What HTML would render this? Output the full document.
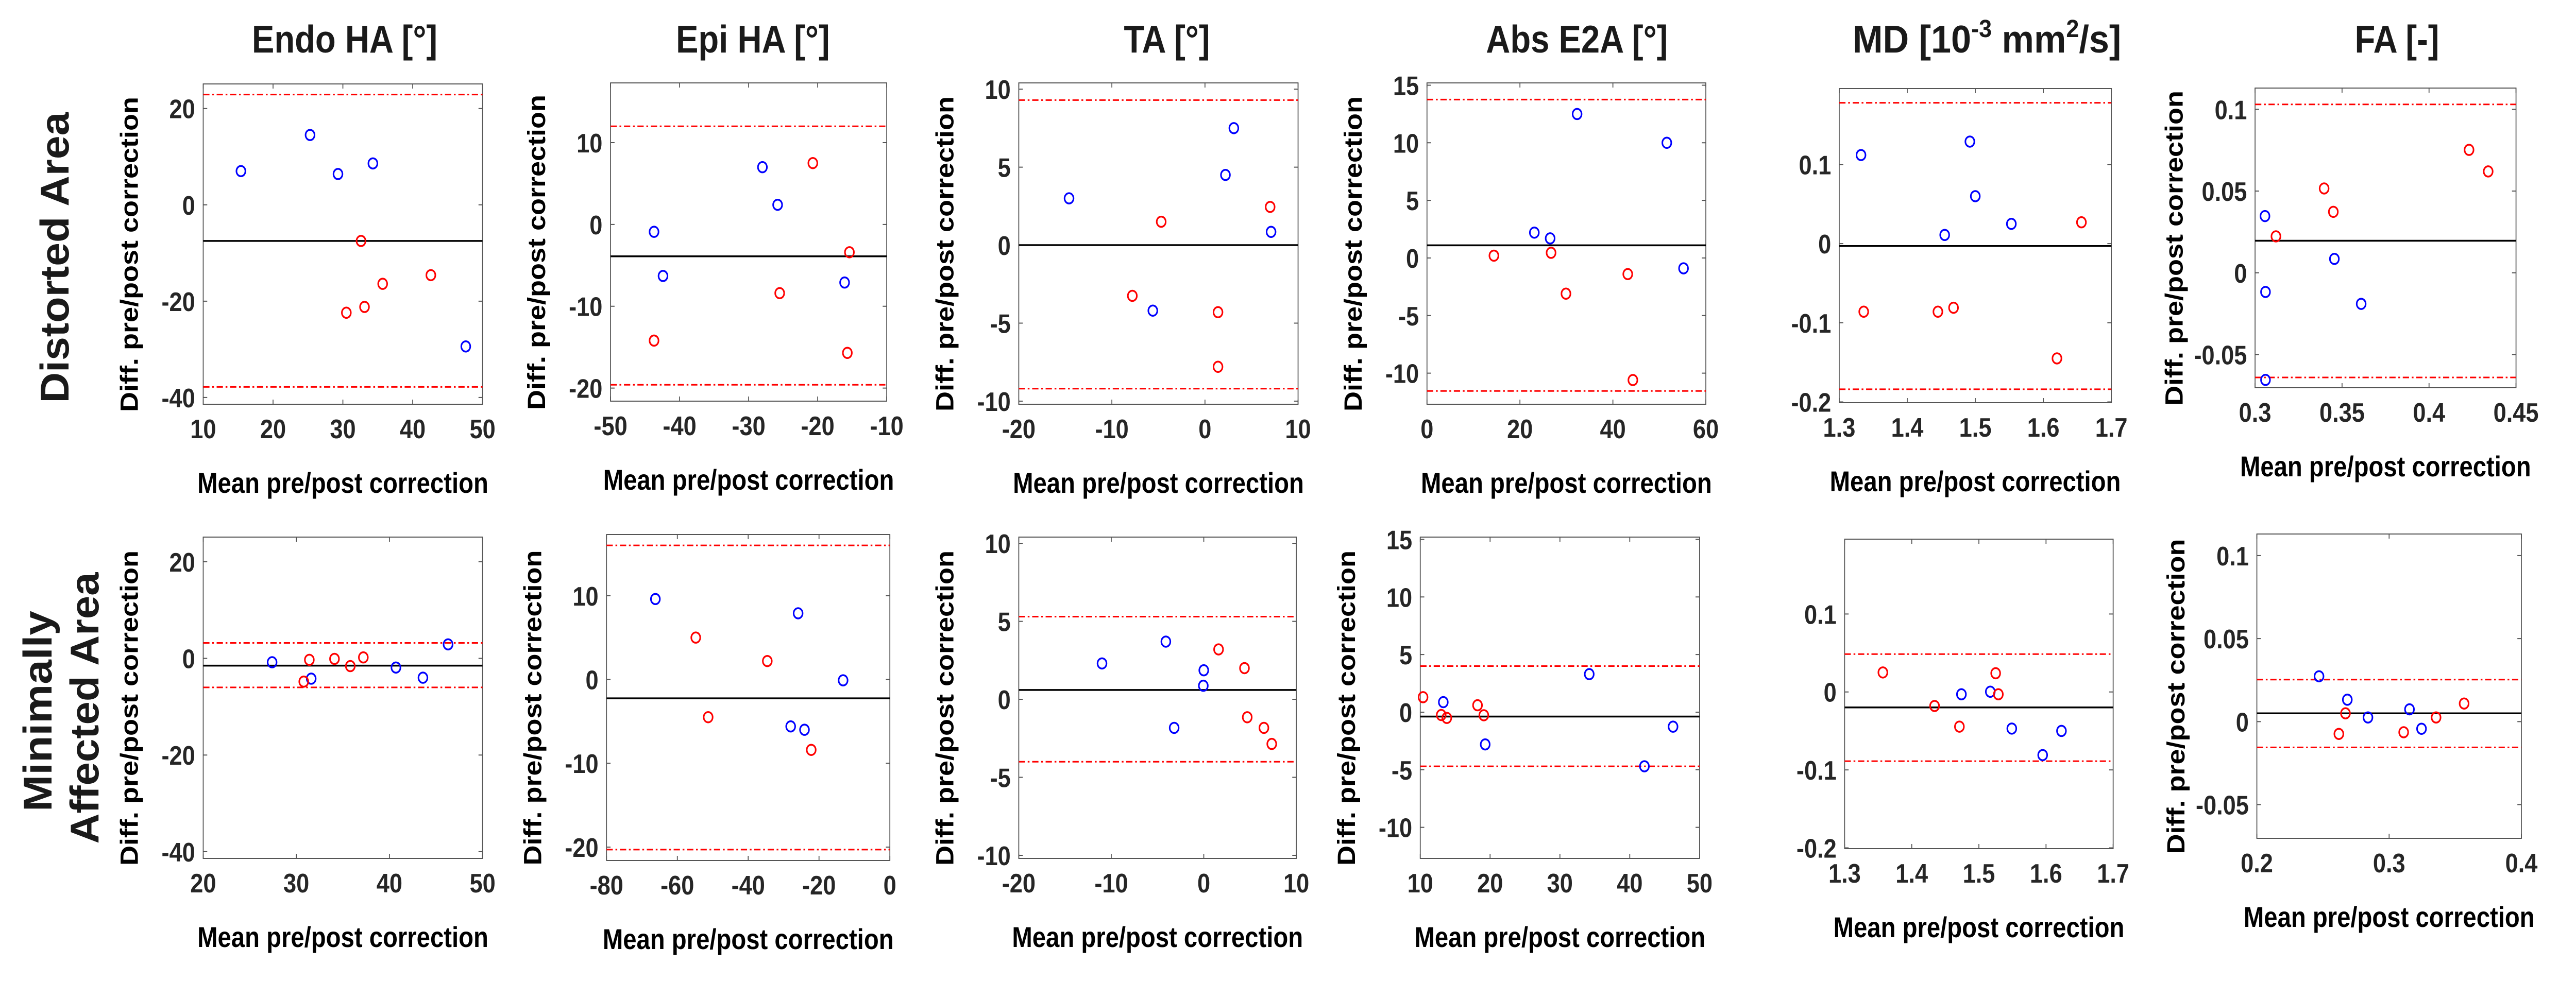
<!DOCTYPE html>
<html><head><meta charset="utf-8"><title>Bland-Altman plots</title>
<style>
html,body{margin:0;padding:0;background:#fff;width:100%;height:100%;overflow:hidden;}
svg{display:block;position:fixed;left:0;top:0;width:100vw;height:100vh;}
text{font-family:"Liberation Sans",Arial,sans-serif;font-weight:bold;}
</style></head>
<body>
<svg id="fig" viewBox="0 0 5755 1940" preserveAspectRatio="none" xmlns="http://www.w3.org/2000/svg">
<rect width="5755" height="1940" fill="#fff"/>
<g font-size="75" fill="#1a1a1a" text-anchor="middle">
<text x="770" y="102">Endo HA [°]</text>
<text x="1682" y="102">Epi HA [°]</text>
<text x="2607" y="102">TA [°]</text>
<text x="3523" y="102">Abs E2A [°]</text>
<text x="4439" y="102" textLength="600" lengthAdjust="spacingAndGlyphs">MD [10<tspan font-size="48" dy="-30">-3</tspan><tspan dy="30"> mm</tspan><tspan font-size="48" dy="-30">2</tspan><tspan dy="30">/s]</tspan></text>
<text x="5355" y="102">FA [-]</text>
</g>
<g font-size="90" fill="#1a1a1a" text-anchor="middle">
<text transform="translate(153,500) rotate(-90)" textLength="565" lengthAdjust="spacingAndGlyphs">Distorted Area</text>
<text transform="translate(115,1381) rotate(-90)" textLength="390" lengthAdjust="spacingAndGlyphs">Minimally</text>
<text transform="translate(220,1375) rotate(-90)" textLength="527" lengthAdjust="spacingAndGlyphs">Affected Area</text>
</g>
<g id="panels"></g>
</svg>
<script>
// ---- Data ----
const endoTopBlueX = [15.4, 25.3, 29.3, 34.3, 47.6];
const endoTopBlueY = [7.0, 14.5, 6.4, 8.6, -29.4];
const endoTopRedX = [32.6, 30.5, 33.1, 35.7, 42.6];
const endoTopRedY = [-7.5, -22.4, -21.2, -16.4, -14.6];
const endoTopLines = [-7.5, 22.9, -37.8];

const epiTopBlueX = [-43.7, -42.4, -28.0, -25.8, -16.1];
const epiTopBlueY = [-0.9, -6.3, 7.0, 2.4, -7.1];
const epiTopRedX = [-43.7, -25.5, -20.7, -15.4, -15.7];
const epiTopRedY = [-14.2, -8.4, 7.5, -3.4, -15.7];
const epiTopLines = [-3.9, 12.0, -19.6];

const taTopBlueX = [-14.6, 3.1, 2.2, 7.1, -5.6];
const taTopBlueY = [3.0, 7.5, 4.5, 0.85, -4.2];
const taTopRedX = [-4.7, 7.0, -7.8, 1.4, 1.4];
const taTopRedY = [1.5, 2.45, -3.25, -4.3, -7.8];
const taTopLines = [0.0, 9.3, -9.2];

const e2aTopBlueX = [32.3, 51.6, 23.1, 26.5, 55.2];
const e2aTopBlueY = [12.5, 10.0, 2.2, 1.7, -0.9];
const e2aTopRedX = [14.4, 26.7, 29.9, 43.2, 44.3];
const e2aTopRedY = [0.2, 0.45, -3.1, -1.4, -10.6];
const e2aTopLines = [1.1, 13.75, -11.55];

const mdTopBlueX = [1.332, 1.492, 1.500, 1.455, 1.553];
const mdTopBlueY = [0.112, 0.129, 0.060, 0.011, 0.025];
const mdTopRedX = [1.336, 1.445, 1.468, 1.620, 1.656];
const mdTopRedY = [-0.086, -0.086, -0.081, -0.145, 0.027];
const mdTopLines = [-0.003, 0.178, -0.184];

const faTopBlueX = [0.3057, 0.306, 0.306, 0.3456, 0.361];
const faTopBlueY = [0.0347, -0.0117, -0.0655, 0.0085, -0.019];
const faTopRedX = [0.312, 0.3397, 0.345, 0.423, 0.434];
const faTopRedY = [0.0223, 0.0516, 0.0373, 0.0752, 0.062];
const faTopLines = [0.0196, 0.103, -0.064];

const endoBotBlueX = [27.4, 31.6, 40.7, 43.6, 46.3];
const endoBotBlueY = [-0.8, -4.2, -1.9, -4.0, 2.9];
const endoBotRedX = [30.8, 31.4, 34.1, 35.8, 37.2];
const endoBotRedY = [-4.8, -0.3, -0.1, -1.6, 0.2];
const endoBotLines = [-1.5, 3.2, -6.0];

const epiBotBlueX = [-66.2, -25.9, -13.2, -28.0, -24.1];
const epiBotBlueY = [9.6, 7.9, -0.1, -5.6, -6.0];
const epiBotRedX = [-54.8, -34.6, -51.3, -22.2];
const epiBotRedY = [5.0, 2.2, -4.5, -8.4];
const epiBotLines = [-2.25, 16.0, -20.3];

const taBotBlueX = [-11.0, -4.1, 0.0, -0.05, -3.2];
const taBotBlueY = [2.3, 3.7, 1.86, 0.87, -1.83];
const taBotRedX = [1.6, 4.4, 4.7, 6.5, 7.35];
const taBotRedY = [3.2, 2.0, -1.15, -1.83, -2.86];
const taBotLines = [0.6, 5.3, -4.0];

const e2aBotBlueX = [13.3, 34.2, 19.3, 46.2, 42.1];
const e2aBotBlueY = [0.87, 3.3, -2.8, -1.26, -4.7];
const e2aBotRedX = [10.4, 13.0, 13.8, 18.2, 19.1];
const e2aBotRedY = [1.3, -0.25, -0.5, 0.6, -0.27];
const e2aBotLines = [-0.38, 4.0, -4.7];

const mdBotBlueX = [1.474, 1.517, 1.549, 1.595, 1.623];
const mdBotBlueY = [-0.003, 0.0003, -0.047, -0.081, -0.050];
const mdBotRedX = [1.357, 1.434, 1.471, 1.525, 1.529];
const mdBotRedY = [0.025, -0.018, -0.0445, 0.024, -0.003];
const mdBotLines = [-0.0198, 0.0485, -0.0888];

const faBotBlueX = [0.247, 0.2684, 0.284, 0.3154, 0.3245];
const faBotBlueY = [0.0273, 0.0132, 0.0025, 0.0074, -0.0043];
const faBotRedX = [0.267, 0.262, 0.311, 0.3355, 0.3567];
const faBotRedY = [0.005, -0.0074, -0.0064, 0.0025, 0.0109];
const faBotLines = [0.005, 0.0253, -0.0155];

const endoTopXTicks = ['10','20','30','40','50'];
const endoBotXTicks = ['20','30','40','50'];
const endoYTicks = ['-40','-20','0','20'];
const epiTopXTicks = ['-50','-40','-30','-20','-10'];
const epiBotXTicks = ['-80','-60','-40','-20','0'];
const epiYTicks = ['-20','-10','0','10'];
const taXTicks = ['-20','-10','0','10'];
const taYTicks = ['-10','-5','0','5','10'];
const e2aTopXTicks = ['0','20','40','60'];
const e2aBotXTicks = ['10','20','30','40','50'];
const e2aYTicks = ['-10','-5','0','5','10','15'];
const mdXTicks = ['1.3','1.4','1.5','1.6','1.7'];
const mdYTicks = ['-0.2','-0.1','0','0.1'];
const faTopXTicks = ['0.3','0.35','0.4','0.45'];
const faBotXTicks = ['0.2','0.3','0.4'];
const faYTicks = ['-0.05','0','0.05','0.1'];

const panels = [
 {id:'endo-distorted', box:[454,163,1078,785], xr:[10,50], yr:[-41.4,25.1], xt:endoTopXTicks, yt:endoYTicks, bx:endoTopBlueX, by:endoTopBlueY, rx:endoTopRedX, ry:endoTopRedY, ln:endoTopLines, ylab:true},
 {id:'epi-distorted', box:[1364,161,1981,779], xr:[-50,-10], yr:[-21.6,17.3], xt:epiTopXTicks, yt:epiYTicks, bx:epiTopBlueX, by:epiTopBlueY, rx:epiTopRedX, ry:epiTopRedY, ln:epiTopLines, ylab:true},
 {id:'ta-distorted', box:[2276,161,2900,785], xr:[-20,10], yr:[-10.2,10.4], xt:taXTicks, yt:taYTicks, bx:taTopBlueX, by:taTopBlueY, rx:taTopRedX, ry:taTopRedY, ln:taTopLines, ylab:true},
 {id:'e2a-distorted', box:[3188,161,3811,785], xr:[0,60], yr:[-12.7,15.2], xt:e2aTopXTicks, yt:e2aYTicks, bx:e2aTopBlueX, by:e2aTopBlueY, rx:e2aTopRedX, ry:e2aTopRedY, ln:e2aTopLines, ylab:true},
 {id:'md-distorted', box:[4109,172,4717,782], xr:[1.3,1.7], yr:[-0.201,0.196], xt:mdXTicks, yt:mdYTicks, bx:mdTopBlueX, by:mdTopBlueY, rx:mdTopRedX, ry:mdTopRedY, ln:mdTopLines, ylab:false},
 {id:'fa-distorted', box:[5038,171,5621,753], xr:[0.3,0.45], yr:[-0.0703,0.113], xt:faTopXTicks, yt:faYTicks, bx:faTopBlueX, by:faTopBlueY, rx:faTopRedX, ry:faTopRedY, ln:faTopLines, ylab:true},
 {id:'endo-minimal', box:[454,1043,1078,1667], xr:[20,50], yr:[-41.4,25.1], xt:endoBotXTicks, yt:endoYTicks, bx:endoBotBlueX, by:endoBotBlueY, rx:endoBotRedX, ry:endoBotRedY, ln:endoBotLines, ylab:true},
 {id:'epi-minimal', box:[1355,1038,1988,1671], xr:[-80,0], yr:[-21.6,17.3], xt:epiBotXTicks, yt:epiYTicks, bx:epiBotBlueX, by:epiBotBlueY, rx:epiBotRedX, ry:epiBotRedY, ln:epiBotLines, ylab:true},
 {id:'ta-minimal', box:[2276,1043,2896,1667], xr:[-20,10], yr:[-10.2,10.4], xt:taXTicks, yt:taYTicks, bx:taBotBlueX, by:taBotBlueY, rx:taBotRedX, ry:taBotRedY, ln:taBotLines, ylab:true},
 {id:'e2a-minimal', box:[3173,1043,3797,1667], xr:[10,50], yr:[-12.7,15.2], xt:e2aBotXTicks, yt:e2aYTicks, bx:e2aBotBlueX, by:e2aBotBlueY, rx:e2aBotRedX, ry:e2aBotRedY, ln:e2aBotLines, ylab:true},
 {id:'md-minimal', box:[4121,1047,4721,1648], xr:[1.3,1.7], yr:[-0.201,0.196], xt:mdXTicks, yt:mdYTicks, bx:mdBotBlueX, by:mdBotBlueY, rx:mdBotRedX, ry:mdBotRedY, ln:mdBotLines, ylab:false},
 {id:'fa-minimal', box:[5042,1037,5633,1628], xr:[0.2,0.4], yr:[-0.0703,0.113], xt:faBotXTicks, yt:faYTicks, bx:faBotBlueX, by:faBotBlueY, rx:faBotRedX, ry:faBotRedY, ln:faBotLines, ylab:true}
];

const NS = 'http://www.w3.org/2000/svg';
function mk(tag, attrs, parent){
  const el = document.createElementNS(NS, tag);
  for (const k in attrs) el.setAttribute(k, attrs[k]);
  parent.appendChild(el);
  return el;
}
const root = document.getElementById('panels');

panels.forEach(p => {
  const [x0,y0,x1,y1] = p.box;
  const sx = v => x0 + (v - p.xr[0]) / (p.xr[1] - p.xr[0]) * (x1 - x0);
  const sy = v => y1 - (v - p.yr[0]) / (p.yr[1] - p.yr[0]) * (y1 - y0);
  const g = mk('g', {}, root);
  
  

  const box = mk('rect', {x:x0, y:y0, width:x1-x0, height:y1-y0, fill:'none', stroke:'#555', 'stroke-width':2}, g);
  
  

  p.xt.forEach(t => {
    const v = parseFloat(t), X = sx(v);
    const tk = mk('path', {d:`M${X},${y1}v-9M${X},${y0}v9`, stroke:'#555', 'stroke-width':2}, g);
    
    
    const tl = mk('text', {x:X, y:y1+66, 'font-size':52, fill:'#262626', 'text-anchor':'middle'}, g);
    
    
    tl.textContent = t;
  });
  p.yt.forEach(t => {
    const v = parseFloat(t), Y = sy(v);
    const tk = mk('path', {d:`M${x0},${Y}h9M${x1},${Y}h-9`, stroke:'#555', 'stroke-width':2}, g);
    
    
    const tl = mk('text', {x:x0-18, y:Y+19, 'font-size':52, fill:'#262626', 'text-anchor':'end'}, g);
    
    
    tl.textContent = t;
  });

  [p.ln[1], p.ln[2]].forEach((v, i) => {
    const l = mk('line', {x1:x0, x2:x1, y1:sy(v), y2:sy(v), stroke:'#ff0000', 'stroke-width':3, 'stroke-dasharray':'14 6 4 6'}, g);
    
    
  });
  const m = mk('line', {x1:x0, x2:x1, y1:sy(p.ln[0]), y2:sy(p.ln[0]), stroke:'#000', 'stroke-width':3.5}, g);
  
  

  p.bx.forEach((v, i) => {
    const c = mk('circle', {cx:sx(v), cy:sy(p.by[i]), r:10, fill:'none', stroke:'#0000ff', 'stroke-width':3.5}, g);
    
    
  });
  p.rx.forEach((v, i) => {
    const c = mk('circle', {cx:sx(v), cy:sy(p.ry[i]), r:10, fill:'none', stroke:'#ff0000', 'stroke-width':3.5}, g);
    
    
  });

  const xl = mk('text', {x:(x0+x1)/2, y:y1+172, 'font-size':56, fill:'#000', 'text-anchor':'middle', textLength:650, lengthAdjust:'spacingAndGlyphs'}, g);
  
  
  xl.textContent = 'Mean pre/post correction';

  if (p.ylab) {
    const cy = (y0 + y1) / 2 + 20;
    const off = (p.id.indexOf('fa') === 0) ? 162 : 146;
    const yl = mk('text', {transform:`translate(${x0-off},${cy}) rotate(-90)`, 'font-size':56, fill:'#000', 'text-anchor':'middle', textLength:612, lengthAdjust:'spacingAndGlyphs'}, g);
    
    
    yl.textContent = 'Diff. pre/post correction';
  }
});
</script>
</body></html>
